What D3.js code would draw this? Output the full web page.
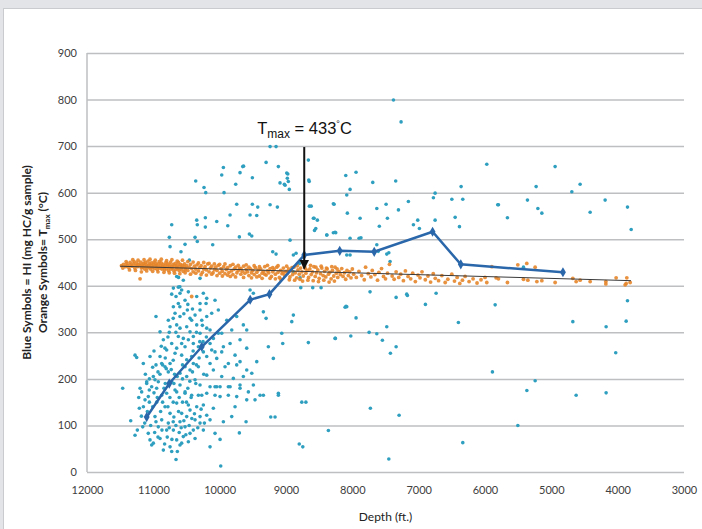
<!DOCTYPE html>
<html>
<head>
<meta charset="utf-8">
<script src="https://cdn.jsdelivr.net/npm/d3@7"></script>
<style>
  html, body { margin: 0; padding: 0; background: #fff; }
  svg { display: block; font-family: Lato, "Open Sans", sans-serif; }
</style>
</head>
<body>
<div id="chart"></div>
<script>
const width = 702, height = 529;
const margin = { top: 53, right: 18, bottom: 57, left: 87 };

const xTicks = [12000, 11000, 10000, 9000, 8000, 7000, 6000, 5000, 4000, 3000];
const yTicks = [0, 100, 200, 300, 400, 500, 600, 700, 800, 900];

// blue symbols: [depth, HI]
const hiPoints = [
  [10361,625],[10236,611],[10210,600],[9944,654],[9969,638],[9934,600],[9758,618],[9693,643],[9652,656],[9640,657],
  [9507,632],[9300,665],[9240,699],[9150,699],[9115,656],[8973,640],[9090,621],[9025,618],[8965,624],[8950,607],
  [9743,575],[9507,575],[9426,569],[9240,574],[9130,569],
  [10723,531],[10346,541],[10337,531],[10216,546],[10216,526],[10044,538],[9878,529],[9843,552],[9542,552],[9441,551],
  [9703,505],[9552,511],[9516,507],[10759,504],[10748,484],[10522,489],[10583,473],[10371,504],[10337,495],[10105,488],
  [10457,455],[9200,473],[9150,468],[8939,498],[8848,470],[8788,417],[8889,430],[8587,545],[8527,541],[8286,576],
  [8260,515],[8385,509],[8075,556],[8084,355],[8260,287],[8663,278],[8889,337],[8913,323],[9064,298],[9049,276],
  [9191,244],[9266,269],[9341,344],[9300,330],[9542,391],[9492,384],[9643,316],[9592,305],[9743,334],[9592,266],
  [9592,219],[9441,237],[9693,237],[9391,165],[9115,169],[9768,251],[9843,276],[9969,298],[9944,269],[9919,226],
  [9969,205],[9794,201],[9869,183],[10070,183],[10095,219],[10044,244],[10145,276],[10095,287],[10145,305],[10195,334],
  [10270,326],
  [5973,661],[4943,656],[5229,613],[4566,618],[4691,602],[5808,574],[5360,584],[5203,566],[5143,556],[5662,546],
  [4415,558],[4189,584],[3852,569],[3796,521],[5420,440],[5847,359],[3852,368],[4676,323],[4174,312],[3872,324],
  [4029,256],[5888,215],[5244,196],[5369,175],[4626,165],[4174,170],[5505,100],
  [7733,387],[7340,375],[7170,379],[6737,384],[6898,360],[8109,354],[8095,356],[7944,331],[7481,312],[6401,321],
  [8256,287],[8023,292],[7747,300],[7631,297],[7547,283],[7340,269],[7426,255],[7728,137],[7295,122],[6335,63],[7450,28],
  [8663,670],[8657,627],[8650,624],[8989,642],[8980,631],[9014,616],[8099,637],[7944,644],[8034,607],[8084,595],
  [7692,622],[7346,625],[8648,571],[8620,571],[8275,575],[7883,545],[7631,566],[7491,575],[7155,581],[6778,589],
  [6752,599],[6360,613],[6500,586],[6335,586],[5797,574],[8577,545],[8551,523],[8570,519],[8385,509],[8286,514],
  [8250,514],[8034,502],[7898,502],[7870,503],[7593,528],[7471,545],[7305,563],[7079,531],[7014,541],[6989,523],
  [6752,541],[6450,547],[6385,527],[8084,466],[8034,466],[7631,488],[7610,474],[7481,468],[7450,471],[8798,448],
  [8889,466],[8777,396],[8597,396],[8471,396],[7180,382],[7431,452],[7380,799],[7265,752],
  [11462,180],[11341,110],[11276,79],[11241,90],[11211,137],[11160,97],[11125,155],[11076,83],[11050,69],[11000,62],
  [11025,58],[10899,72],[10849,47],[10748,54],[10658,27],[10638,44],[10598,58],[10648,69],[10548,76],[10447,83],
  [10522,97],[10397,90],[10371,112],[10296,119],[10195,122],[10145,112],[9994,70],[9984,13],[10095,137],[9944,108],
  [9818,119],[9703,84],[9602,108],[9230,118],[9165,118],[9115,165],[8762,150],[8747,54],[8361,89],[9341,165],
  [9467,155],[9592,155],[9743,162],[9869,165],[10070,165],[10195,169],[10321,165],[9994,183],[10246,144],[10472,144],
  [10648,148],[10748,126],[10824,140],[10874,112],[10975,119],[10925,97],[10799,90],[10698,90],[10598,108],[10497,119],
  [10774,105],[10700,108],[10573,126],[10447,133],[10346,140],[10296,105],[10246,90],[10371,72],[10472,65],[10573,62],
  [10723,44],[11061,176],[11100,190],[10925,194],[10799,169],[10648,172],[10522,169],[10145,183],[9843,183],[9693,180],
  [9567,172],[9768,140],[10070,83],[10145,54],
  [11276,251],[11251,246],[11151,233],[11050,248],[11000,205],[10975,198],[11100,194],[11025,183],[10950,180],[10874,233],
  [10860,230],[10824,226],[10805,222],[10748,233],[10774,215],[10730,220],[10849,284],[10799,262],[10648,266],[10573,251],
  [10522,269],[10472,284],[10397,291],[10623,291],[10598,309],[10748,312],[10648,316],[10497,312],[10447,330],[10598,334],
  [10673,341],[10698,355],[10623,362],[10522,369],[10658,377],[10723,382],[10598,384],[10698,395],[10623,397],[10600,398],
  [10573,391],[10472,387],[10346,377],[10296,362],[10246,384],[10195,373],[10296,348],[10371,337],[10487,348],[10422,326],
  [10346,316],[10205,362],[10120,341],[10195,309],[10296,298],[10397,276],[10321,269],[10246,258],[10422,248],[10497,241],
  [10397,233],[10321,226],[10447,219],[10522,226],[10598,212],[10497,205],[10371,198],[10296,187],[10195,208],[10145,233],
  [10195,248],[10598,187],[10673,176],[10522,172],[10422,165],[10270,165],[10874,165],[11076,162],[11176,172],[10723,194],
  [10548,287],[10447,301],[10573,276],[10673,255],[10723,276],[10824,266],[10899,301],[10960,334],[10774,326],[10899,248],
  [10648,420],[10620,418],[10548,412],[10296,416],
  [10070,369],[10020,348],[9893,326],[9818,305],[9693,284],[10020,298],[9969,258],[10070,258],[10120,262],[9869,233],
  [9743,230],[9643,205],[9516,212],[10044,183],[9693,187],[9492,187],[9994,162],
  [11010,140],[10950,150],[10890,130],[10700,150],[10620,130],[10560,150],[10430,160],[10360,190],[10240,210],[10480,180],
  [10900,210],[10820,190],[10700,240],[10560,230],[10400,260],[10300,280],[10660,300],[10780,290],[11120,210],[10990,260],
  [8800,60],[8700,150],
  [11180,120],[11130,105],[11090,130],[11040,100],[10980,85],[10960,108],[10930,75],[10870,90],[10830,60],[10790,75],
  [10760,95],[10720,70],[10690,118],[10660,100],[10610,85],[10580,95],[10540,110],[10510,80],[10460,100],[10420,115],
  [10380,125],[10330,95],[10280,135],[10230,105],[11150,140],[11060,150],[10990,170],[10940,160],[10860,150],[10840,180],
  [10780,140],[10750,160],[10690,190],[10640,205],[10610,160],[10560,200],[10500,150],[10450,195],[10410,215],[10350,230],
  [10310,245],[10250,280],[10200,290],[10260,315],[10350,300],[10410,350],[10480,360],[10540,340],[10600,355],[10700,330],
  [10760,300],[10820,245],[10880,270],[10930,215],[11010,225],[11060,200],[11200,180],[11220,160],[10960,230],[10680,210]
];

// orange symbols: [depth, Tmax]
const tmaxPoints = [
  [11480,443],[11450,446],[11420,441],[11400,448],[11390,444],[11370,439],[11350,450],[11340,445],[11320,442],[11300,447],
  [11290,452],[11280,438],[11260,444],[11250,449],[11240,441],[11220,446],[11200,415],[11200,443],[11190,451],[11180,438],
  [11170,445],[11160,440],[11150,448],[11140,443],[11130,436],[11120,450],[11110,446],[11100,441],[11090,438],[11080,453],
  [11070,444],[11060,447],[11050,440],[11040,436],[11030,449],[11020,443],[11010,439],[11000,446],[10990,451],[10980,437],
  [10970,442],[10960,448],[10950,444],[10940,435],[10930,440],[10920,447],[10910,452],[10900,438],[10890,443],[10880,449],
  [10870,436],[10860,441],[10850,446],[10840,439],[10830,434],[10820,444],[10810,450],[10800,437],[10790,442],[10780,447],
  [10770,433],[10760,440],[10750,445],[10740,451],[10730,436],[10720,441],[10710,438],[10700,446],[10690,432],[10680,443],
  [10670,448],[10660,435],[10650,440],[10640,444],[10630,437],[10620,450],[10610,433],[10600,442],[10590,446],[10580,436],
  [10570,439],[10560,444],[10550,431],[10540,441],[10530,447],[10520,435],[10510,438],[10500,443],
  [10480,433],[10460,440],[10440,446],[10420,437],[10422,377],[10400,430],[10380,442],[10360,436],[10340,445],[10320,432],
  [10300,439],[10280,443],[10260,429],[10240,436],[10220,441],[10200,434],[10180,447],[10160,430],[10140,438],[10120,442],
  [10100,428],[10080,435],[10060,440],[10040,433],[10020,444],[10000,427],[9980,437],[9960,431],[9940,441],[9920,426],
  [9900,435],[9880,439],[9860,429],[9840,443],[9820,432],[9800,424],[9780,436],[9760,440],[9740,428],[9720,433],
  [9700,438],[9680,425],[9660,431],[9640,442],[9620,427],[9600,435],[9580,430],[9560,422],[9540,437],[9520,428],
  [9500,433],[9480,424],[9460,439],[9440,429],[9420,434],[9400,421],[9380,436],[9360,427],[9340,431],[9320,441],
  [9300,423],[9280,432],[9260,428],[9240,437],[9220,420],[9200,430],[9180,435],[9160,425],[9140,440],[9120,429],
  [9100,418],[9080,433],[9060,426],[9040,438],[9020,422],[9000,431],[8980,427],[8960,436],[8940,419],[8920,432],
  [8900,424],[8880,440],[8860,428],[8840,417],[8820,434],[8800,425],[8780,438],[8760,430],[8740,421],[8720,442],
  [8700,427],[8680,433],[8660,418],[8640,436],[8620,424],[8600,430],[8580,441],[8560,420],[8540,428],[8520,434],
  [8500,416],[8480,426],[8460,438],[8440,422],[8420,431],[8400,419],[8380,436],[8360,425],[8340,429],[8320,415],
  [8300,433],[8280,421],[8260,440],[8240,427],[8220,418],[8200,431],[8180,424],[8160,437],[8140,420],[8120,428],
  [8100,414],[8080,433],[8060,422],[8040,430],[8020,417],[8000,436],
  [7980,425],[7940,418],[7900,431],[7860,422],[7820,413],[7800,440],[7760,426],[7720,419],[7700,433],[7660,424],
  [7620,412],[7600,429],[7560,437],[7530,420],[7500,415],[7470,427],[7440,446],[7400,421],[7370,414],[7340,430],
  [7300,418],[7270,425],[7230,411],[7200,432],[7160,420],[7120,415],[7090,427],[7050,409],[7010,423],[6980,417],
  [6950,430],[6900,413],[6860,421],[6820,408],[6780,426],[6750,416],[6700,411],[6650,422],[6600,407],[6560,414],
  [6500,425],[6460,410],[6420,418],[6380,405],[6340,412],[6300,420],[6240,409],[6180,415],[6120,406],[6060,413],
  [6000,418],[5973,407],[5897,441],[5832,417],[5797,415],[5662,407],[5505,445],[5420,414],[5370,448],[5354,412],
  [5244,440],[5218,409],[5143,411],[4943,407],[4676,416],[4626,409],[4566,412],[4415,409],[4178,409],[4178,404],
  [4023,417],[3862,417],[3872,405],[3812,407],[3887,402],
  [11460,438],[11410,452],[11360,434],[11310,456],[11270,433],[11230,455],[11180,430],[11140,456],[11100,432],[11050,457],
  [11010,431],[10970,455],[10930,430],[10880,457],[10840,429],[10800,454],[10760,428],[10720,456],[10680,427],[10640,453],
  [10600,426],[10560,455],[10520,428],[10480,452],[10440,425],[10400,451],[10360,427],[10320,449],[10280,424],[10240,450],
  [10200,423],[10160,448],[10120,425],[10080,447],[10040,422],[10000,446],[9960,421],[9920,447],[9880,423],[9840,420],
  [9800,446],[9760,419],[9720,444],[9680,437],[9640,418],[9600,445],[9560,440],[9520,417],[9480,443],[9440,419],
  [9400,441],[9360,416],[9320,425],[9280,444],[9240,416],[9200,439],[9160,415],[9120,443],[9080,414],[9040,428],
  [8990,442],[8950,413],[8910,439],[8870,412],[8830,443],[8790,414],[8750,410],[8710,437],[8670,412],[8630,444],
  [8590,411],[8550,440],[8510,409],[8470,442],[8430,412],[8390,438],[8350,408],[8310,441],[8270,410],[8230,436]
];

// averaged HI curve (blue line with diamonds)
const hiAvg = [
  [11100,118],[10760,190],[10270,269],[9540,370],[9250,382],[8725,466],[8190,475],[7670,473],[6790,516],[6365,446],[4825,429]
];

// Tmax trend line
const trend = [[11500,442],[3800,411]];

const tmaxDepth = 8725, tmaxValue = 433;

const svg = d3.select("#chart")
  .append("svg")
  .attr("width", width)
  .attr("height", height);

// window frame
svg.append("rect").attr("x", 0).attr("y", 0).attr("width", width).attr("height", 8).attr("fill", "#e2e4e8");
svg.append("rect").attr("x", 0).attr("y", 0).attr("width", 3).attr("height", height).attr("fill", "#e2e4e8");
svg.append("line").attr("x1", 3).attr("x2", width).attr("y1", 8.5).attr("y2", 8.5).attr("stroke", "#c9cbcf");
svg.append("line").attr("x1", 3.5).attr("x2", 3.5).attr("y1", 8).attr("y2", height).attr("stroke", "#c9cbcf");

let x = d3.scaleLinear()
  .domain([12000, 3000])
  .range([margin.left, width - margin.right]);

let y = d3.scaleLinear()
  .domain([0, 900])
  .range([height - margin.bottom, margin.top]);

// gridlines
svg.append("g")
  .attr("class", "grid")
  .attr("transform", `translate(${margin.left},0)`)
  .call(d3.axisLeft(y)
    .tickValues(yTicks)
    .tickSize(-(width - margin.right - margin.left))
    .tickFormat(d => d)
    .tickPadding(10))
  .call(g => g.select(".domain").remove())
  .call(g => g.selectAll(".tick line").attr("stroke", "#bdbfc1").attr("stroke-width", 1.5))
  .call(g => g.selectAll(".tick text")
    .attr("fill", "#404040")
    .attr("font-size", "11px")
    .attr("font-family", "Lato, sans-serif"));

// y axis line
svg.append("line")
  .attr("x1", margin.left).attr("x2", margin.left)
  .attr("y1", y(900)).attr("y2", y(0))
  .attr("stroke", "#bdbfc1")
  .attr("stroke-width", 1.5);

// x axis labels (no ticks)
svg.append("g")
  .attr("transform", `translate(0,${y(0)})`)
  .call(d3.axisBottom(x)
    .tickValues(xTicks)
    .tickSize(0)
    .tickPadding(14)
    .tickFormat(d => d))
  .call(g => g.select(".domain").remove())
  .call(g => g.selectAll(".tick text")
    .attr("fill", "#404040")
    .attr("font-size", "11px")
    .attr("font-family", "Lato, sans-serif"));

// blue scatter
svg.append("g")
  .selectAll("circle")
  .data(hiPoints)
  .join("circle")
  .attr("cx", d => x(d[0]))
  .attr("cy", d => y(d[1]))
  .attr("r", 1.8)
  .attr("fill", "#2f9fc0");

// orange scatter
svg.append("g")
  .selectAll("circle")
  .data(tmaxPoints)
  .join("circle")
  .attr("cx", d => x(d[0]))
  .attr("cy", d => y(d[1]))
  .attr("r", 1.9)
  .attr("fill", "#e6852a")
  .attr("fill-opacity", 0.9);

// trend line
let line = d3.line()
  .x(d => x(d[0]))
  .y(d => y(d[1]));

svg.append("path")
  .datum(trend)
  .attr("fill", "none")
  .attr("stroke", "#3a3a3a")
  .attr("stroke-width", 1)
  .attr("d", line);

// averaged HI line
svg.append("path")
  .datum(hiAvg)
  .attr("fill", "none")
  .attr("stroke", "#2a66aa")
  .attr("stroke-width", 2.5)
  .attr("d", line);

svg.append("g")
  .selectAll("path")
  .data(hiAvg)
  .join("path")
  .attr("transform", d => `translate(${x(d[0])},${y(d[1])})`)
  .attr("d", d3.symbol(d3.symbolDiamond, 30))
  .attr("fill", "#2a66aa");

// Tmax arrow
svg.append("defs").append("marker")
  .attr("id", "arrow")
  .attr("viewBox", "0 0 10 10")
  .attr("refX", 9).attr("refY", 5)
  .attr("markerWidth", 5).attr("markerHeight", 5)
  .attr("markerUnits", "strokeWidth")
  .attr("orient", "auto")
  .append("path")
  .attr("d", "M0,0L10,5L0,10Z")
  .attr("fill", "#111");

svg.append("line")
  .attr("x1", x(tmaxDepth)).attr("x2", x(tmaxDepth))
  .attr("y1", y(698)).attr("y2", y(tmaxValue + 4))
  .attr("stroke", "#111")
  .attr("stroke-width", 2)
  .attr("marker-end", "url(#arrow)");

let ann = svg.append("text")
  .attr("x", x(tmaxDepth) - 47)
  .attr("y", y(726))
  .attr("font-family", "'Liberation Sans', Arial, sans-serif")
  .attr("font-size", "16.5px")
  .attr("fill", "#111");
ann.append("tspan").text("T");
ann.append("tspan").attr("dy", 4).attr("font-size", "12px").text("max");
ann.append("tspan").attr("dy", -4).text(" = " + tmaxValue);
ann.append("tspan").attr("dy", -7).attr("font-size", "9px").text("°");
ann.append("tspan").attr("dy", 7).text("C");

// y axis title
let ytitle = svg.append("text")
  .attr("transform", `translate(31,${(y(0) + y(900)) / 2}) rotate(-90)`)
  .attr("text-anchor", "middle")
  .attr("font-size", "12px")
  .attr("font-weight", 700)
  .attr("fill", "#222");
ytitle.append("tspan").attr("x", 0).attr("dy", 0).text("Blue Symbols = HI (mg HC/g sample)");

let ytitle2 = svg.append("text")
  .attr("transform", `translate(47,${(y(0) + y(900)) / 2}) rotate(-90)`)
  .attr("text-anchor", "middle")
  .attr("font-size", "12px")
  .attr("font-weight", 700)
  .attr("fill", "#222");
ytitle2.append("tspan").text("Orange Symbols= T");
ytitle2.append("tspan").attr("dy", 3).attr("font-size", "8px").text("max");
ytitle2.append("tspan").attr("dy", -3).text(" (°C)");

// x axis title
svg.append("text")
  .attr("x", (x(12000) + x(3000)) / 2)
  .attr("y", 521)
  .attr("text-anchor", "middle")
  .attr("font-size", "12px")
  .attr("fill", "#222")
  .text("Depth (ft.)");
</script>
</body>
</html>
